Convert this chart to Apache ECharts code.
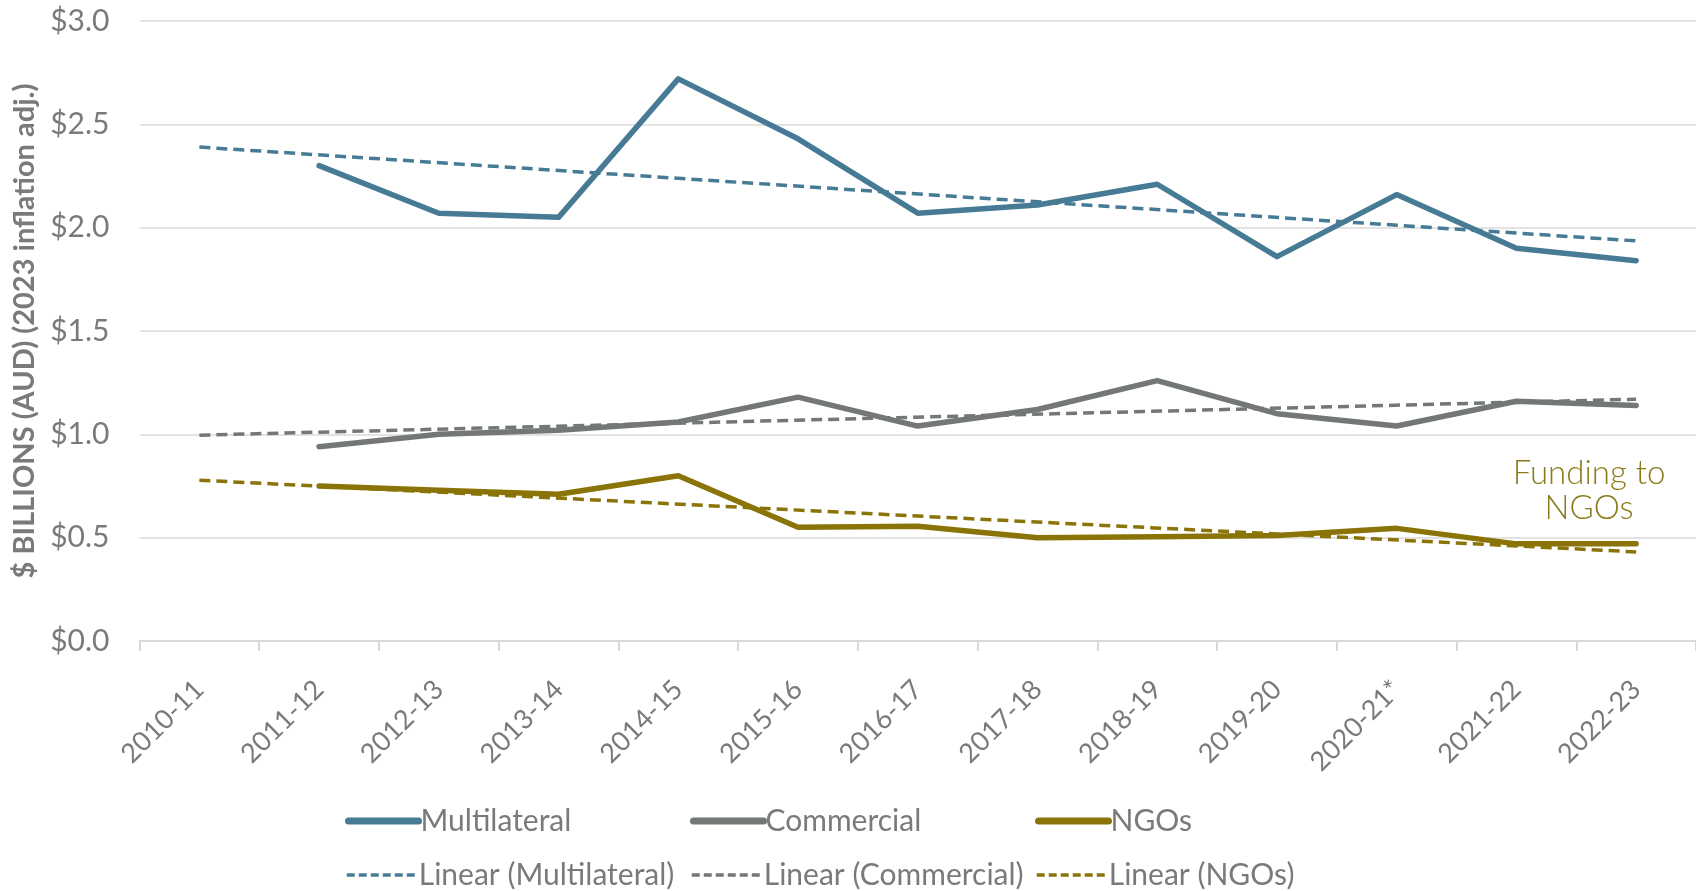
<!DOCTYPE html>
<html><head><meta charset="utf-8">
<script src="https://cdn.jsdelivr.net/npm/echarts@6/dist/echarts.min.js"></script>
<style>html,body{margin:0;padding:0;background:#fff}#c{width:1696px;height:891px}</style>
</head><body><div id="c"></div>
<script>
const categories = ['2010-11','2011-12','2012-13','2013-14','2014-15','2015-16','2016-17','2017-18','2018-19','2019-20','2020-21*','2021-22','2022-23'];
const multilateral = [null, 2.30, 2.07, 2.05, 2.72, 2.43, 2.07, 2.11, 2.21, 1.86, 2.16, 1.90, 1.84];
const commercial   = [null, 0.94, 1.00, 1.02, 1.06, 1.18, 1.04, 1.12, 1.26, 1.10, 1.04, 1.16, 1.14];
const ngos         = [null, 0.75, 0.73, 0.71, 0.80, 0.55, 0.555, 0.50, 0.505, 0.51, 0.545, 0.47, 0.47];
// trendline endpoints, straight line between them
const trendMultilateral = [2.39, null, null, null, null, null, null, null, null, null, null, null, 1.936];
const trendCommercial   = [0.996, null, null, null, null, null, null, null, null, null, null, null, 1.17];
const trendNgos         = [0.778, null, null, null, null, null, null, null, null, null, null, null, 0.431];
const yTicks = [0, 0.5, 1.0, 1.5, 2.0, 2.5, 3.0];

const C_MUL = '#477B95', C_COM = '#747778', C_NGO = '#8A7408';
const FONT = 'Lato';
const GRAY = '#7a7a7a';

const chart = echarts.init(document.getElementById('c'), null, {renderer:'canvas'});
function solid(name, data, color){
  return {name, type:'line', data, symbol:'none', connectNulls:false,
    lineStyle:{color, width:5.5, cap:'round', join:'round'}, itemStyle:{color}, z:2};
}
function trend(name, data, color){
  return {name, type:'line', data, symbol:'none', connectNulls:true,
    lineStyle:{color, width:3.5, type:[11,6]}, itemStyle:{color}, z:3};
}
function leg(name, left, top, dashed){
  return {data:[name], left, top, itemWidth:70, itemHeight:14, itemGap:0,
    itemStyle:{opacity:0},
    lineStyle: dashed ? {width:3.5, type:[8,4]} : {width:7, cap:'round'},
    textStyle:{fontFamily:FONT, fontSize:30, color:GRAY, padding:[0,0,0,-3]}};
}
chart.setOption({
  animation:false,
  textStyle:{fontFamily:FONT},
  grid:{left:139.5, width:1560, top:21, bottom:250},
  legend:[
    leg('Multilateral',340,801,false), leg('Commercial',685,801,false), leg('NGOs',1030,801,false),
    leg('Linear (Multilateral)',340,855,true), leg('Linear (Commercial)',685,855,true), leg('Linear (NGOs)',1030,855,true)
  ],
  xAxis:{type:'category', data:categories, boundaryGap:true,
    axisLine:{lineStyle:{color:'#d9d9d9', width:2}},
    axisTick:{show:true, length:10, lineStyle:{color:'#d9d9d9', width:2}},
    axisLabel:{rotate:45, fontFamily:FONT, fontSize:27, color:GRAY, margin:44}},
  yAxis:{type:'value', min:yTicks[0], max:yTicks[yTicks.length-1], interval:0.5,
    name:'$ BILLIONS (AUD) (2023 inflation adj.)', nameLocation:'middle', nameRotate:90, nameGap:93,
    nameTextStyle:{fontFamily:FONT, fontWeight:'bold', fontSize:29, color:GRAY},
    axisLine:{show:false}, axisTick:{show:false},
    splitLine:{lineStyle:{color:'#e3e3e3', width:2}},
    axisLabel:{fontFamily:FONT, fontSize:30, color:GRAY, margin:30,
      formatter:v=>'$'+v.toFixed(1)}},
  graphic:[{type:'text', x:1589, y:491, style:{text:'Funding to\nNGOs', align:'center', verticalAlign:'middle',
    fontFamily:FONT, fontWeight:300, fontSize:33, lineHeight:35, fill:'#8A7A1A'}}],
  series:[
    solid('Multilateral', multilateral, C_MUL),
    solid('Commercial', commercial, C_COM),
    solid('NGOs', ngos, C_NGO),
    trend('Linear (Multilateral)', trendMultilateral, C_MUL),
    trend('Linear (Commercial)', trendCommercial, C_COM),
    trend('Linear (NGOs)', trendNgos, C_NGO)
  ]
});
</script></body></html>
